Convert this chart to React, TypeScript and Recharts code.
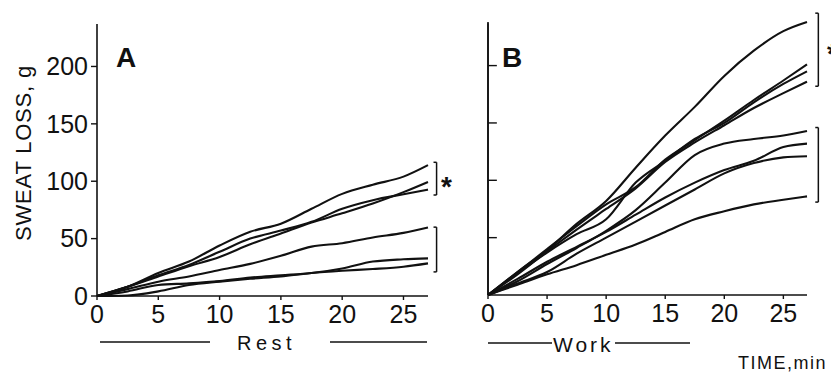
import { LineChart, Line, XAxis, YAxis, ReferenceLine } from "recharts";

const TIME = [0, 2.5, 5, 7.5, 10, 12.5, 15, 17.5, 20, 22.5, 25, 27];
const X_TICKS = [0, 5, 10, 15, 20, 25];
const Y_TICKS = [0, 50, 100, 150, 200];
const Y_MAX = 237;

// A: rest
const REST_1 = [0, 8, 20, 30, 44, 56, 63, 76, 89, 97, 104, 114];
const REST_2 = [0, 8, 17, 26, 34, 45, 54.5, 64, 72, 80.5, 90.5, 99.4];
const REST_3 = [0, 8, 18, 27, 38.5, 50, 57, 64.6, 76, 83.5, 88.7, 92.7];
const REST_4 = [0, 6, 12.5, 17, 22.6, 28, 35, 43, 46, 51, 55, 59.7];
const REST_5 = [0, 4, 9.6, 11, 13, 16, 18, 20, 24, 30, 32, 32.8];
const REST_6 = [0, 0.5, 4, 9.6, 12.5, 15, 17, 20, 22, 23.5, 25.5, 28.4];

// B: work
const WORK_1 = [0, 20, 39, 62, 82, 111, 139, 164, 191, 213, 230, 238];
const WORK_2 = [0, 20, 40, 60, 79, 94, 118, 135, 152, 170, 187, 201];
const WORK_3 = [0, 19, 37, 53, 66, 98, 117, 136, 150, 168, 184, 195];
const WORK_4 = [0, 18, 38, 57, 75, 93, 116, 133, 148, 163, 176, 186];
const WORK_5 = [0, 12, 27, 41, 56, 74, 98, 122, 132, 136, 139, 143];
const WORK_6 = [0, 14, 29, 42, 55, 70, 85, 98, 109, 117, 129, 132];
const WORK_7 = [0, 10, 20, 36, 50, 64, 78, 92, 106, 115, 120, 121];
const WORK_8 = [0, 9, 18, 26, 35, 44, 55, 66, 73, 79, 83, 86];

const REST = [REST_1, REST_2, REST_3, REST_4, REST_5, REST_6];
const WORK = [WORK_1, WORK_2, WORK_3, WORK_4, WORK_5, WORK_6, WORK_7, WORK_8];

// group brackets: [low, high] in g
const REST_BRACKETS = [[88, 116.5], [21, 60]];
const WORK_BRACKETS = [[182, 245.7], [81, 146]];

const toRows = (series: number[][]) =>
  TIME.map((t, i) => {
    const row: Record<string, number> = { t };
    series.forEach((s, k) => (row["s" + k] = s[i]));
    return row;
  });

const FONT = "'Liberation Sans', Arial, sans-serif";
const INK = "#111";
const tickStyle = { fontSize: 25, fill: INK, fontFamily: FONT };

function bracket(lo: number, hi: number, x: number, x0: number, key: string) {
  const common = { stroke: INK, strokeWidth: 1.5, ifOverflow: "visible" as const };
  return [
    <ReferenceLine key={key + "v"} segment={[{ x, y: lo }, { x, y: hi }]} {...common} />,
    <ReferenceLine key={key + "t"} segment={[{ x: x0, y: hi }, { x, y: hi }]} {...common} />,
    <ReferenceLine key={key + "b"} segment={[{ x: x0, y: lo }, { x, y: lo }]} {...common} />,
  ];
}

function Panel({ series, brackets, bx, bx0, width, yWidth, right, top, bottom, labels }: any) {
  const rows = toRows(series);
  return (
    <LineChart width={width} height={372} data={rows} margin={{ top, right, left: 0, bottom }}>
      <XAxis
        dataKey="t"
        type="number"
        domain={[0, 27]}
        ticks={X_TICKS}
        interval={0}
        height={30}
        tickSize={4}
        tickMargin={5}
        tick={tickStyle}
        axisLine={{ stroke: INK, strokeWidth: 1.6 }}
        tickLine={{ stroke: INK, strokeWidth: 1.4 }}
      />
      <YAxis
        type="number"
        domain={[0, Y_MAX]}
        ticks={Y_TICKS}
        width={yWidth}
        tickSize={labels ? 6 : 0}
        tickMargin={3}
        tick={labels ? tickStyle : { fill: "transparent", fontSize: 1 }}
        axisLine={{ stroke: INK, strokeWidth: 1.6 }}
        tickLine={labels ? { stroke: INK, strokeWidth: 1.4 } : false}
      />
      {/* panel B: unlabeled axis with inward ticks */}
      {!labels && (
        <ReferenceLine
          segment={[{ x: 0, y: 0 }, { x: 0, y: Y_MAX }]}
          stroke={INK}
          strokeWidth={1.6}
          ifOverflow="visible"
        />
      )}
      {!labels &&
        Y_TICKS.slice(1).map((v) => (
          <ReferenceLine
            key={"yt" + v}
            segment={[{ x: 0, y: v }, { x: 0.75, y: v }]}
            stroke={INK}
            strokeWidth={1.4}
            ifOverflow="visible"
          />
        ))}
      {series.map((_: number[], k: number) => (
        <Line
          key={k}
          dataKey={"s" + k}
          type="monotone"
          stroke={INK}
          strokeWidth={2.1}
          dot={false}
          isAnimationActive={false}
        />
      ))}
      {brackets.map((b: number[], i: number) => bracket(b[0], b[1], bx, bx0, "br" + i))}
    </LineChart>
  );
}

export default function App() {
  return (
    <div style={{ position: "absolute", left: 0, top: 0, width: 831, height: 372, background: "#fff", overflow: "hidden" }}>
      <div style={{ position: "absolute", left: 0, top: 0 }}>
        <Panel series={REST} brackets={REST_BRACKETS} bx={27.7} bx0={27.45} width={460} yWidth={97} right={32} top={24} bottom={46} labels={true} />
      </div>
      <div style={{ position: "absolute", left: 440, top: 0 }}>
        <Panel series={WORK} brackets={WORK_BRACKETS} bx={27.96} bx0={27.7} width={391} yWidth={48} right={24} top={22} bottom={47} labels={false} />
      </div>
      <svg width={831} height={372} style={{ position: "absolute", left: 0, top: 0, pointerEvents: "none" }} fontFamily={FONT} fill={INK}>
        <text transform="translate(31,153) rotate(-90)" textAnchor="middle" fontSize={22} letterSpacing={0.8}>SWEAT LOSS, g</text>
        <text x={116} y={67} fontSize={28} fontWeight="bold">A</text>
        <text x={502} y={67} fontSize={28} fontWeight="bold">B</text>
        <text x={441} y={196} fontSize={28} fontWeight="bold">*</text>
        <text x={827} y={63} fontSize={28} fontWeight="bold">*</text>
        <line x1={100} x2={210} y1={342} y2={342} stroke={INK} strokeWidth={1.5} />
        <text x={237} y={350} fontSize={20} letterSpacing={4.5}>Rest</text>
        <line x1={330} x2={427} y1={342} y2={342} stroke={INK} strokeWidth={1.5} />
        <line x1={488} x2={552} y1={343} y2={343} stroke={INK} strokeWidth={1.5} />
        <text x={553} y={352} fontSize={21} letterSpacing={3}>Work</text>
        <line x1={615} x2={690} y1={343} y2={343} stroke={INK} strokeWidth={1.5} />
        <text x={738} y={369} fontSize={18} letterSpacing={1.5}>TIME,min</text>
      </svg>
    </div>
  );
}
